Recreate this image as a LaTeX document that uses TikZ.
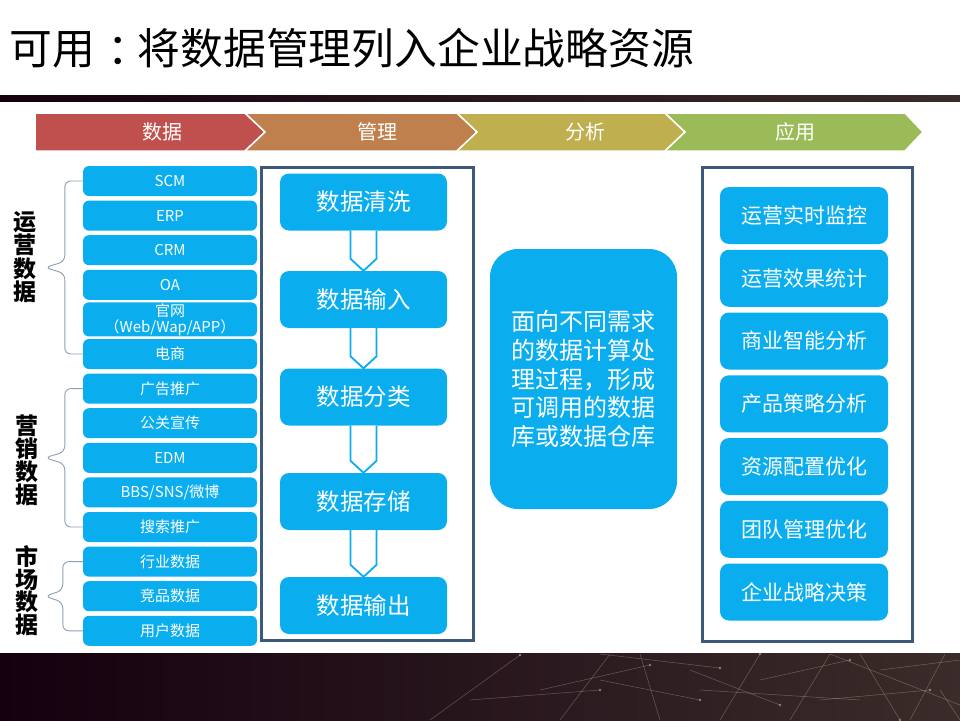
\documentclass[tikz,border=0pt]{standalone}
\usepackage{fontspec}
\usetikzlibrary{calc}
\newfontfamily\cjk{Noto Sans CJK SC}
\definecolor{dmblue}{HTML}{0AAEEF}
\definecolor{dmframe}{HTML}{3C587A}
\definecolor{dmbrace}{HTML}{8EA0B5}
\definecolor{dmred}{HTML}{C0504D}
\definecolor{dmorange}{HTML}{C0804D}
\definecolor{dmolive}{HTML}{BFAF4F}
\definecolor{dmgreen}{HTML}{9BBB59}
\definecolor{dmdark}{HTML}{15000F}
\definecolor{dmdusk}{HTML}{3A2C2A}
\definecolor{dmnet}{HTML}{C8B8A0}
\tikzset{
  bx/.style={fill=dmblue, rounded corners=6pt, align=center, text=white, inner sep=1pt},
  lb/.style={bx, minimum width=174pt, minimum height=30pt, font=\cjk\fontsize{15}{19}\selectfont},
  mb/.style={bx, rounded corners=9pt, minimum width=167pt, minimum height=57pt, font=\cjk\fontsize{23.5}{26}\selectfont},
  rb/.style={bx, rounded corners=9pt, minimum width=168pt, minimum height=57pt, font=\cjk\fontsize{21}{24}\selectfont},
  grp/.style={align=center, inner sep=0pt, font=\cjk\bfseries\fontsize{23}{23.5}\selectfont},
  chev/.style={draw=white, line width=1.5pt},
  chl/.style={text=white, font=\cjk\fontsize{20}{22}\selectfont},
  frm/.style={draw=dmframe, line width=3pt},
  brc/.style={draw=dmbrace, line width=0.9pt, rounded corners=6pt},
  flw/.style={draw=dmblue, fill=white, line width=1.8pt, line join=miter},
  net/.style={draw=dmnet, line width=0.5pt, opacity=0.4},
}
\begin{document}
\begin{tikzpicture}[x=1pt, y=-1pt]
  \useasboundingbox (0,0) rectangle (960,720);
  \fill[white] (0,0) rectangle (960,720);
  \node[anchor=west, inner sep=0pt, font=\cjk\fontsize{42.8}{46}\selectfont] (ttl) at (9,48) {可用\hspace{0.3em}：\hspace{-0.3em}将数据管理列入企业战略资源};
  \shade[left color=dmdark, middle color=dmdark, right color=dmdusk] (0,95) rectangle (960,101);
  \path[chev, fill=dmred] (35,113) -- (245,113) -- (265,132) -- (245,151) -- (35,151) -- cycle;
  \path[chev, fill=dmorange] (245,113) -- (457,113) -- (477,132) -- (457,151) -- (245,151) -- (265,132) -- cycle;
  \path[chev, fill=dmolive] (457,113) -- (665,113) -- (685,132) -- (665,151) -- (457,151) -- (477,132) -- cycle;
  \path[chev, fill=dmgreen] (665,113) -- (905,113) -- (923,132) -- (905,151) -- (665,151) -- (685,132) -- cycle;
  \node[chl] (c1) at (162,132) {数据};
  \node[chl] (c2) at (377,132) {管理};
  \node[chl] (c3) at (585,132) {分析};
  \node[chl] (c4) at (795,132) {应用};
  \foreach \t [count=\i] in {SCM,ERP,CRM,OA,{官网\\[-3pt]（Web/Wap/APP）},电商,广告推广,公关宣传,EDM,BBS/SNS/微博,搜索推广,行业数据,竞品数据,用户数据}
    \node[lb] (b\i) at (170,{181+34.6*(\i-1)}) {\t};
  \coordinate (g1) at ($(b1.west)!.5!(b6.west)$);
  \coordinate (g2) at ($(b7.west)!.5!(b11.west)$);
  \coordinate (g3) at ($(b12.west)!.5!(b14.west)$);
  \draw[brc] (b1.west) -- ++(-18,0) -- ($(g1)+(-18,-6)$) -- ($(g1)+(-38,0)$) -- ($(g1)+(-18,6)$) -- ($(b6.west)+(-18,0)$) -- (b6.west);
  \draw[brc] (b7.west) -- ++(-18,0) -- ($(g2)+(-18,-6)$) -- ($(g2)+(-38,0)$) -- ($(g2)+(-18,6)$) -- ($(b11.west)+(-18,0)$) -- (b11.west);
  \draw[brc] (b12.west) -- ++(-20,0) -- ($(g3)+(-20,-6)$) -- ($(g3)+(-38,0)$) -- ($(g3)+(-20,6)$) -- ($(b14.west)+(-20,0)$) -- (b14.west);
  \node[grp] (gl1) at (25,257) {运\\营\\数\\据};
  \node[grp, font=\cjk\bfseries\fontsize{23}{20.5}\selectfont] (gl2) at (27,460) {营\\销\\数\\据};
  \node[grp, font=\cjk\bfseries\fontsize{23}{20.5}\selectfont] (gl3) at (27,591) {市\\场\\数\\据};
  \draw[frm] (261,167) rectangle (473,640);
  \node[mb] (m1) at (363.5,202) {数据清洗};
  \node[mb] (m2) at (363.5,299.5) {数据输入};
  \node[mb] (m3) at (363.5,397) {数据分类};
  \node[mb] (m4) at (363.5,501.5) {数据存储};
  \node[mb] (m5) at (363.5,605.5) {数据输出};
  \foreach \a/\b in {m1/m2,m2/m3,m3/m4,m4/m5}
    \draw[flw] ($(\a.south)+(-13,0)$) -- ($(\b.north)+(-13,-12)$) -- (\b.north) -- ($(\b.north)+(13,-12)$) -- ($(\a.south)+(13,0)$);
  \node[bx, rounded corners=28pt, minimum width=187pt, minimum height=260pt, font=\cjk\fontsize{24}{28.75}\selectfont] (cb) at (583.5,379) {面向不同需求\\的数据计算处\\理过程，形成\\可调用的数据\\库或数据仓库};
  \draw[frm] (702,167) rectangle (912,641);
  \foreach \t [count=\i] in {运营实时监控,运营效果统计,商业智能分析,产品策略分析,资源配置优化,团队管理优化,企业战略决策}
    \node[rb] (r\i) at (804,{215.5+62.75*(\i-1)}) {\t};
  \shade[left color=dmdark, middle color=dmdark, right color=dmdusk] (0,653) rectangle (960,720);
  \foreach \xa/\ya/\xb/\yb in {430/720/520/655, 470/700/600/690, 560/720/610/654, 600/680/700/700, 640/654/660/720, 690/670/780/705, 720/720/760/654, 760/680/850/660, 790/720/830/654, 820/700/930/690, 860/654/900/720, 880/670/960/660, 910/720/945/654, 700/690/860/700, 540/690/650/665, 940/690/960/720, 600/654/720/668, 830/654/960/705}
    \draw[net] (\xa,\ya) -- (\xb,\yb);
  \foreach \xa/\ya in {520/655, 600/690, 700/700, 780/705, 850/660, 930/690, 720/668, 650/665, 760/654, 900/720}
    \fill[dmnet, opacity=0.6] (\xa,\ya) circle (1.4);
\end{tikzpicture}
\end{document}
